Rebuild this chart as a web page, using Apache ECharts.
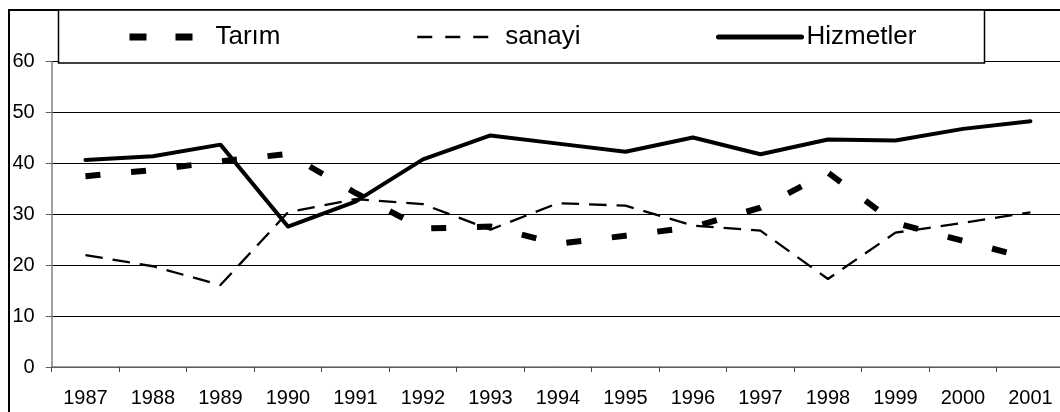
<!DOCTYPE html>
<html>
<head>
<meta charset="utf-8">
<script src="https://cdn.jsdelivr.net/npm/echarts@6/dist/echarts.min.js"></script>
<style>
html,body{margin:0;padding:0;background:#fff;overflow:hidden;}
#c{width:1066px;height:412px;}
</style>
</head>
<body>
<div id="c"></div>
<script>
var years = ['1987','1988','1989','1990','1991','1992','1993','1994','1995','1996','1997','1998','1999','2000','2001'];
var tarim = [37.5, 38.7, 40.4, 41.9, 34.2, 27.2, 27.6, 24.2, 25.8, 27.5, 31.3, 38.2, 28.3, 24.8, 21.3];
var sanayi = [22.0, 19.8, 16.1, 30.4, 33.0, 32.0, 27.0, 32.2, 31.7, 27.8, 26.8, 17.3, 26.4, 28.3, 30.4];
var hizmetler = [40.7, 41.4, 43.7, 27.6, 32.5, 40.8, 45.5, 43.9, 42.3, 45.1, 41.8, 44.7, 44.5, 46.8, 48.3];
var seriesNames = ['Tarım', 'sanayi', 'Hizmetler'];

var FONT = '"Liberation Sans", Arial, sans-serif';
var chart = echarts.init(document.getElementById('c'), null, {renderer: 'canvas'});

function legendFor(name, left, width, lineStyle) {
  return {
    data: [name], left: left, top: 24, padding: 0, itemWidth: width, itemHeight: 14,
    selectedMode: false, z: 8, lineStyle: lineStyle,
    itemStyle: {color: 'rgba(0,0,0,0)', borderColor: 'rgba(0,0,0,0)', borderWidth: 0, opacity: 0},
    textStyle: {fontSize: 26, color: '#000', fontFamily: FONT}
  };
}

chart.setOption({
  animation: false,
  backgroundColor: '#fff',
  grid: {left: 51.7, top: 61.7, width: 1012.5, height: 305.3, containLabel: false},
  graphic: [
    {type: 'rect', z: 1, shape: {x: 9, y: 10, width: 2000, height: 1000},
     style: {fill: 'none', stroke: '#000', lineWidth: 2}},
    {type: 'rect', z: 6, shape: {x: 58.5, y: 10, width: 926, height: 53},
     style: {fill: '#fff', stroke: '#000', lineWidth: 1.5}}
  ],
  legend: [
    legendFor(seriesNames[0], 126, 81, {width: 7, type: [17, 29], cap: 'butt'}),
    legendFor(seriesNames[1], 416, 83, {width: 2.5, type: [15, 13], cap: 'butt'}),
    legendFor(seriesNames[2], 716, 83, {width: 5, type: 'solid', cap: 'round'})
  ],
  xAxis: {
    type: 'category', data: years, boundaryGap: true,
    axisLine: {lineStyle: {color: '#808080', width: 1.5}},
    axisTick: {show: true, length: 5, lineStyle: {color: '#404040', width: 1}},
    axisLabel: {color: '#000', fontSize: 20, fontFamily: FONT, margin: 21, interval: 0},
    splitLine: {show: false}
  },
  yAxis: {
    type: 'value', min: 0, max: 60, interval: 10,
    axisLine: {show: true, lineStyle: {color: '#808080', width: 1.5}},
    axisTick: {show: true, length: 6, lineStyle: {color: '#606060', width: 1}},
    axisLabel: {color: '#000', fontSize: 20, fontFamily: FONT, margin: 17},
    splitLine: {show: true, lineStyle: {color: '#000', width: 1}}
  },
  series: [
    {name: seriesNames[0], type: 'line', data: tarim, symbol: 'none', z: 3,
     lineStyle: {color: '#000', width: 6, type: [15, 30.8], cap: 'butt', join: 'miter'},
     itemStyle: {color: '#000'}},
    {name: seriesNames[1], type: 'line', data: sanayi, symbol: 'none', z: 3,
     lineStyle: {color: '#000', width: 2.3, type: [17.5, 10], cap: 'butt'},
     itemStyle: {color: '#000'}},
    {name: seriesNames[2], type: 'line', data: hizmetler, symbol: 'none', z: 4,
     lineStyle: {color: '#000', width: 4, type: 'solid', cap: 'round', join: 'round'},
     itemStyle: {color: '#000'}}
  ]
});
</script>
</body>
</html>
